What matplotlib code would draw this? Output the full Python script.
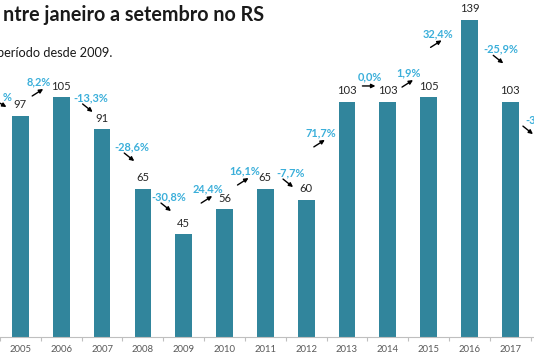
import matplotlib
matplotlib.use('Agg')
import matplotlib.pyplot as plt
from matplotlib.transforms import offset_copy

# ---- data ----
years = [2005, 2006, 2007, 2008, 2009, 2010, 2011, 2012, 2013, 2014, 2015, 2016, 2017]
counts = [97, 105, 91, 65, 45, 56, 65, 60, 103, 103, 105, 139, 103]
pct_from_year = [2004, 2005, 2006, 2007, 2008, 2009, 2010, 2011, 2012, 2013, 2014, 2015, 2016, 2017]
pct_labels = ['%', '8,2%', '-13,3%', '-28,6%', '-30,8%', '24,4%', '16,1%', '-7,7%',
              '71,7%', '0,0%', '1,9%', '32,4%', '-25,9%', '-3']
pct_dir = ['down', 'up', 'down', 'down', 'down', 'up', 'up', 'down',
           'up', 'flat', 'up', 'up', 'down', 'down']
title = 'ntre janeiro a setembro no RS'
subtitle = 'período desde 2009.'

# ---- layout (label placement: x offset from transition midpoint, y in data units) ----
label_dx = [0.28, -0.04, 0.22, 0.24, 0.14, 0.10, -0.01, 0.13, -0.14, 0.05, 0.02, -0.28, 0.28, -0.14]
label_y = [104.7, 111.7, 104.7, 83.2, 61.3, 64.8, 72.7, 71.8, 89.4, 113.9, 115.6, 133.0, 126.0, 95.0]
arrow_px = {'up': ((-7, 14), (4, 7)), 'down': ((-8, 6), (2, 14)), 'flat': ((-7, 9), (6, 9)),
            'edge_left': ((-17, 2), (-5, 9)), 'edge_right': ((-2, 6), (8, 14))}

W, H = 534, 358
fig = plt.figure(figsize=(W / 100, H / 100), dpi=100)
ax = fig.add_axes([0, 21 / H, 1, 337 / H])
ppy = 41.17
x0 = 2005 - 16 / ppy
ax.set_xlim(x0, x0 + W / ppy)
ax.set_ylim(0, 337 / 2.283)

bar_color = '#31859C'
pct_color = '#3BAFDA'
font = 'Lato'

ax.bar(years, counts, width=0.41, color=bar_color, zorder=2)
for y, c in zip(years, counts):
    ax.annotate(str(c), xy=(y, c), xytext=(0, 4), textcoords='offset points',
                ha='center', va='bottom', fontsize=8.1, color='#262626', family=font)

n = len(pct_labels)
for i, (fy, lab, d) in enumerate(zip(pct_from_year, pct_labels, pct_dir)):
    tx = fy + 0.5 + label_dx[i]
    ty = label_y[i]
    ha = 'center'
    key = d
    if i == 0:
        ha = 'right'
        key = 'edge_left'
    if i == n - 1:
        ha = 'left'
        key = 'edge_right'
    ax.text(tx, ty, lab, ha=ha, va='center', fontsize=7.9, color=pct_color,
            fontweight='bold', family=font, clip_on=False)
    (tlx, tly), (hdx, hdy) = arrow_px[key]
    tail_tr = offset_copy(ax.transData, fig=fig, x=tlx, y=-tly, units='dots')
    head_tr = offset_copy(ax.transData, fig=fig, x=hdx, y=-hdy, units='dots')
    ax.annotate('', xy=(tx, ty), xycoords=head_tr, xytext=(tx, ty), textcoords=tail_tr,
                arrowprops=dict(arrowstyle='-|>', color='black', lw=1.0,
                                mutation_scale=6, shrinkA=0, shrinkB=0),
                annotation_clip=False)

for s in ['top', 'right', 'left']:
    ax.spines[s].set_visible(False)
ax.spines['bottom'].set_color('#BFBFBF')
ax.spines['bottom'].set_linewidth(0.8)
ax.set_yticks([])
ax.set_xticks(years)
ax.set_xticklabels([str(y) for y in years], fontsize=6.8, color='#595959', family=font)
ax.tick_params(axis='x', which='major', length=0, pad=6)
ax.set_xticks([y + 0.5 for y in [2004] + years], minor=True)
ax.tick_params(axis='x', which='minor', length=3, color='#BFBFBF', width=0.8)
ax.patch.set_alpha(0)

fig.text(3 / W, 1 - 15 / H, title, ha='left', va='center', fontsize=14.2,
         fontweight='bold', color='#1a1a1a', family=font)
fig.text(-3 / W, 1 - 53 / H, subtitle, ha='left', va='center', fontsize=9.2,
         color='#1a1a1a', family=font)

fig.savefig('out.png', dpi=100)
